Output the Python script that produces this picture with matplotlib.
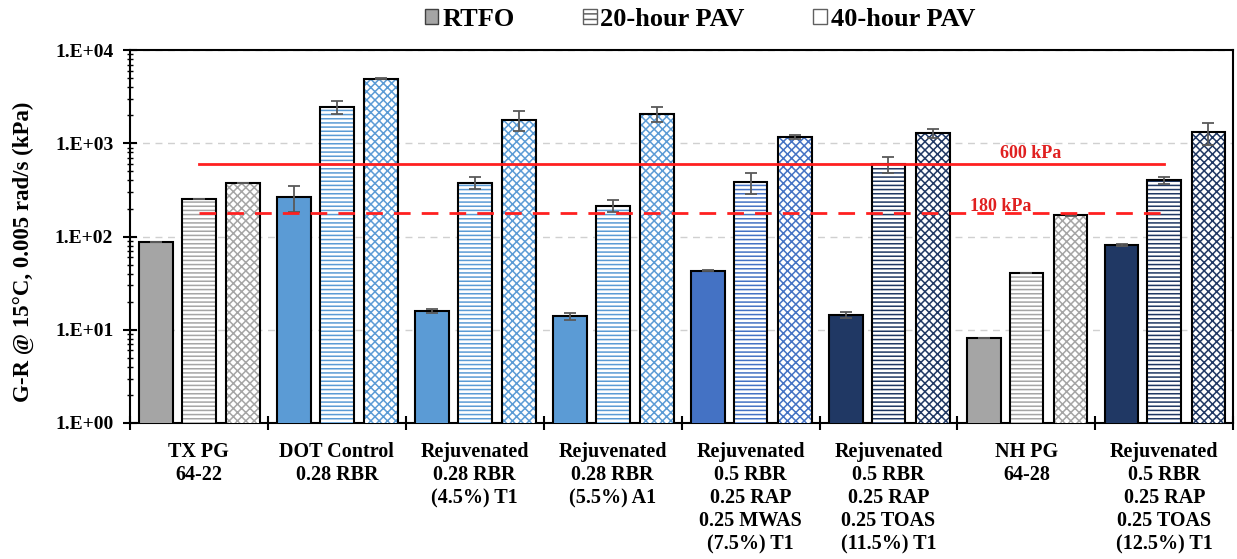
import numpy as np
import matplotlib.pyplot as plt
from matplotlib.patches import Patch
from matplotlib.ticker import FixedLocator, FuncFormatter, LogLocator, NullFormatter

plt.rcParams['font.family'] = ['Liberation Serif', 'DejaVu Serif']
plt.rcParams['font.weight'] = 'bold'
plt.rcParams['hatch.linewidth'] = 1.1

groups = [
    "TX PG\n64-22",
    "DOT Control\n0.28 RBR",
    "Rejuvenated\n0.28 RBR\n(4.5%) T1",
    "Rejuvenated\n0.28 RBR\n(5.5%) A1",
    "Rejuvenated\n0.5 RBR\n0.25 RAP\n0.25 MWAS\n(7.5%) T1",
    "Rejuvenated\n0.5 RBR\n0.25 RAP\n0.25 TOAS\n(11.5%) T1",
    "NH PG\n64-28",
    "Rejuvenated\n0.5 RBR\n0.25 RAP\n0.25 TOAS\n(12.5%) T1",
]
series = ["RTFO", "20-hour PAV", "40-hour PAV"]

rtfo = [87, 265, 16, 14, 43, 14.5, 8.2, 81]
pav20 = [250, 2450, 380, 215, 385, 595, 41, 405]
pav40 = [375, 4950, 1800, 2080, 1170, 1280, 170, 1310]

rtfo_err = [0, 80, 0.8, 1.2, 0.5, 1.2, 0, 1.5]
pav20_err = [0, 380, 55, 30, 100, 120, 0, 35]
pav40_err = [0, 60, 450, 380, 60, 150, 3, 350]

group_colors = ['#a5a5a5', '#5b9bd5', '#5b9bd5', '#5b9bd5',
                '#4472c4', '#203864', '#a5a5a5', '#203864']

limit_hi = 600
limit_lo = 180

fig = plt.figure(figsize=(12.37, 5.59), dpi=100)
ax = fig.add_axes([0.105, 0.2433, 0.892, 0.667])

x = np.arange(len(groups))
w = 0.245
offsets = [-0.31, 0.0, 0.32]
hatches = [None, '----', 'xxxx']
values = [rtfo, pav20, pav40]
errors = [rtfo_err, pav20_err, pav40_err]

for k in range(3):
    xs = x + offsets[k]
    for i in range(len(groups)):
        c = group_colors[i]
        if hatches[k] is None:
            ax.bar(xs[i], values[k][i], w, color=c, edgecolor='black',
                   linewidth=1.5, zorder=3)
        else:
            # hatch layer in the group colour, then a black outline on top
            ax.bar(xs[i], values[k][i], w, color='white', edgecolor=c,
                   hatch=hatches[k], linewidth=0, zorder=3)
            ax.bar(xs[i], values[k][i], w, fill=False, edgecolor='black',
                   linewidth=1.5, zorder=4)
    ax.errorbar(xs, values[k], yerr=errors[k], fmt='none', ecolor='#595959',
                elinewidth=1.3, capsize=4, capthick=1.3, zorder=5)

# specification limits
ax.plot([x[0], x[-1]], [limit_hi, limit_hi], color='#ff2020', lw=2, zorder=6)
ax.plot([x[0], x[-1]], [limit_lo, limit_lo], color='#ff2020', lw=2,
        ls=(0, (6, 4)), zorder=6)
ax.text(6.03, limit_hi * 1.05, "600 kPa", color='#e02020', fontsize=13,
        fontweight='bold', ha='center', va='bottom', zorder=7)
ax.text(5.81, limit_lo * 0.95, "180 kPa", color='#e02020', fontsize=13,
        fontweight='bold', ha='center', va='bottom', zorder=7)

ax.set_yscale('log')
ax.set_ylim(1, 1e4)
ax.set_xlim(-0.5, len(groups) - 0.5)
ax.yaxis.set_major_formatter(FuncFormatter(lambda v, p: f"1.E+{int(round(np.log10(v))):02d}"))
ax.yaxis.set_minor_locator(LogLocator(base=10, subs=np.arange(2, 10)))
ax.yaxis.set_minor_formatter(NullFormatter())
ax.tick_params(axis='y', which='major', direction='inout', length=10, width=1.5,
               labelsize=14, pad=7)
ax.tick_params(axis='y', which='minor', direction='inout', length=5, width=1)
ax.grid(axis='y', which='major', color='#d0d0d0', ls=(0, (5, 4)), lw=1, zorder=0)

ax.xaxis.set_major_locator(FixedLocator(np.arange(len(groups) + 1) - 0.5))
ax.xaxis.set_major_formatter(NullFormatter())
ax.xaxis.set_minor_locator(FixedLocator(x))
ax.set_xticklabels(groups, minor=True)
ax.tick_params(axis='x', which='major', direction='inout', length=10, width=1.5)
ax.tick_params(axis='x', which='minor', length=0, labelsize=14.5, pad=14)
for lbl in ax.get_xticklabels(minor=True):
    lbl.set_linespacing(1.2)
    lbl.set_fontweight('bold')

for s in ax.spines.values():
    s.set_linewidth(1.5)

ax.set_ylabel("G-R @ 15\u00b0C, 0.005 rad/s (kPa)", fontsize=16.5,
              fontweight='bold')
ax.yaxis.set_label_coords(-0.087, 0.46)

handles = [
    Patch(facecolor='#a5a5a5', edgecolor='#404040', linewidth=1),
    Patch(facecolor='white', edgecolor='#606060', hatch='---', linewidth=1),
    Patch(facecolor='white', edgecolor='#606060', linewidth=1),
]
fig.legend(handles, series, loc='center', bbox_to_anchor=(0.566, 0.965),
           ncol=3, frameon=False, prop={'size': 19, 'weight': 'bold'},
           handlelength=0.5, handleheight=0.5, handletextpad=0.15,
           columnspacing=2.6)

fig.savefig("out.png", dpi=100)
